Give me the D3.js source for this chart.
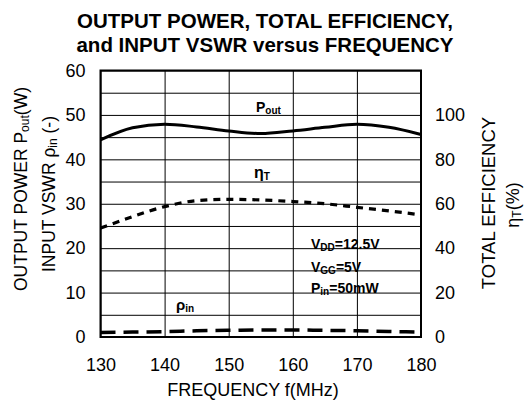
<!DOCTYPE html>
<html>
<head>
<meta charset="utf-8">
<script src="https://cdn.jsdelivr.net/npm/d3@7"></script>
<style>
  body { margin: 0; background: #fff; }
  svg text { font-family: "Liberation Sans", Arial, sans-serif; fill: #000; }
</style>
</head>
<body>
<div id="graph"></div>
<script>
// Data
var freq     = [130, 135, 140, 145, 150, 155, 160, 165, 170, 175, 180];
var poutW    = [44.4, 47.1, 47.9, 47.3, 46.4, 45.8, 46.4, 47.2, 47.9, 47.2, 45.6];
var effPct   = [49, 54.2, 58.7, 61.4, 62, 61.7, 61, 60, 58.4, 56.8, 55];
var vswr     = [1.0, 1.1, 1.2, 1.4, 1.5, 1.6, 1.6, 1.5, 1.4, 1.25, 1.1];

var xTicks     = [130, 140, 150, 160, 170, 180];
var leftTicks  = [0, 10, 20, 30, 40, 50, 60];
var rightTicks = [0, 20, 40, 60, 80, 100];
var gridRows   = d3.range(0, 61, 5);

// SVG size and plot box
var margin = { top: 70.5, right: 107, bottom: 66, left: 100.5 };
var W = 528, H = 403;
var width  = W - margin.left - margin.right;
var height = H - margin.top - margin.bottom;

var svg = d3.select('#graph')
            .append('svg')
            .attr('width', W)
            .attr('height', H);

var g = svg.append('g')
           .attr('transform', 'translate(' + margin.left + ',' + margin.top + ')');

var xScale = d3.scaleLinear().domain([130, 180]).range([0, width]);
var yLeft  = d3.scaleLinear().domain([0, 60]).range([height, 0]);
var yRight = d3.scaleLinear().domain([0, 120]).range([height, 0]);

// grid, drawn with long ticks
g.append('g')
 .attr('class', 'grid')
 .call(d3.axisLeft(yLeft).tickValues(gridRows).tickSize(-width).tickFormat(''))
 .call(function (s) { s.select('.domain').remove(); })
 .selectAll('line').attr('stroke', '#000').attr('stroke-width', 1);

g.append('g')
 .attr('class', 'grid')
 .attr('transform', 'translate(0,' + height + ')')
 .call(d3.axisBottom(xScale).tickValues(xTicks).tickSize(-height).tickFormat(''))
 .call(function (s) { s.select('.domain').remove(); })
 .selectAll('line').attr('stroke', '#000').attr('stroke-width', 1);

// frame
g.append('rect')
 .attr('width', width).attr('height', height)
 .attr('fill', 'none').attr('stroke', '#000').attr('stroke-width', 2);

// tick labels (axes without lines)
var fs = '18px';

var leftAxis = g.append('g')
  .call(d3.axisLeft(yLeft).tickValues(leftTicks).tickSize(0).tickPadding(15));
var rightAxis = g.append('g')
  .attr('transform', 'translate(' + width + ',0)')
  .call(d3.axisRight(yRight).tickValues(rightTicks).tickSize(0).tickPadding(14));
var bottomAxis = g.append('g')
  .attr('transform', 'translate(0,' + height + ')')
  .call(d3.axisBottom(xScale).tickValues(xTicks).tickSize(0).tickPadding(21));

[leftAxis, rightAxis, bottomAxis].forEach(function (a) {
  a.select('.domain').remove();
  a.selectAll('text')
   .style('font-size', fs)
   .style('font-family', '"Liberation Sans", Arial, sans-serif')
   .attr('fill', '#000');
});

// curves
var line = function (ys, scale) {
  return d3.line()
           .x(function (d, i) { return xScale(freq[i]); })
           .y(function (d) { return scale(d); })
           .curve(d3.curveMonotoneX)(ys);
};

g.append('path')
 .attr('d', line(poutW, yLeft))
 .attr('fill', 'none').attr('stroke', '#000').attr('stroke-width', 3);

g.append('path')
 .attr('d', line(effPct, yRight))
 .attr('fill', 'none').attr('stroke', '#000').attr('stroke-width', 3.2)
 .attr('stroke-dasharray', '7,6');

g.append('path')
 .attr('d', line(vswr, yLeft))
 .attr('fill', 'none').attr('stroke', '#000').attr('stroke-width', 3.5)
 .attr('stroke-dasharray', '15,8');

// title
var title = svg.append('text')
  .attr('text-anchor', 'middle')
  .style('font-size', '20.5px').style('font-weight', 'bold');
title.append('tspan').attr('x', 265).attr('y', 28).text('OUTPUT POWER, TOTAL EFFICIENCY,');
title.append('tspan').attr('x', 265).attr('y', 52).text('and INPUT VSWR versus FREQUENCY');

// x axis title
svg.append('text')
   .attr('x', 253).attr('y', 396)
   .attr('text-anchor', 'middle')
   .style('font-size', '18px')
   .text('FREQUENCY f(MHz)');

// helper for text with a subscript
function subText(sel, parts, subSize) {
  parts.forEach(function (p) {
    var t = sel.append('tspan').text(p[0]);
    if (p[1]) t.attr('baseline-shift', '-20%').style('font-size', subSize);
  });
}

// left axis titles
var l1 = svg.append('text')
  .attr('transform', 'translate(27,189) rotate(-90)')
  .attr('text-anchor', 'middle').style('font-size', '17.5px');
subText(l1, [['OUTPUT POWER P'], ['out', true], ['(W)']], '12px');

var l2 = svg.append('text')
  .attr('transform', 'translate(55,194) rotate(-90)')
  .attr('text-anchor', 'middle').style('font-size', '17.5px');
subText(l2, [['INPUT VSWR \u03c1'], ['in', true], [' (-)']], '12px');

// right axis titles
svg.append('text')
   .attr('transform', 'translate(495,203) rotate(-90)')
   .attr('text-anchor', 'middle').style('font-size', '18.5px')
   .text('TOTAL EFFICIENCY');

var r2 = svg.append('text')
  .attr('transform', 'translate(519,205) rotate(-90)')
  .attr('text-anchor', 'middle').style('font-size', '18px');
subText(r2, [['\u03b7'], ['T', true], ['(%)']], '12px');

// in-plot labels
function label(x, y, parts, size) {
  var t = svg.append('text')
    .attr('x', x).attr('y', y)
    .style('font-size', size || '14px').style('font-weight', 'bold');
  subText(t, parts, '10px');
}

label(256, 112, [['P'], ['out', true]]);
label(254, 178, [['\u03b7'], ['T', true]], '16px');
label(176, 310, [['\u03c1'], ['in', true]], '15px');
label(311, 249, [['V'], ['DD', true], ['=12.5V']]);
label(311, 271.5, [['V'], ['GG', true], ['=5V']]);
label(311, 292.5, [['P'], ['in', true], ['=50mW']]);
</script>
</body>
</html>
